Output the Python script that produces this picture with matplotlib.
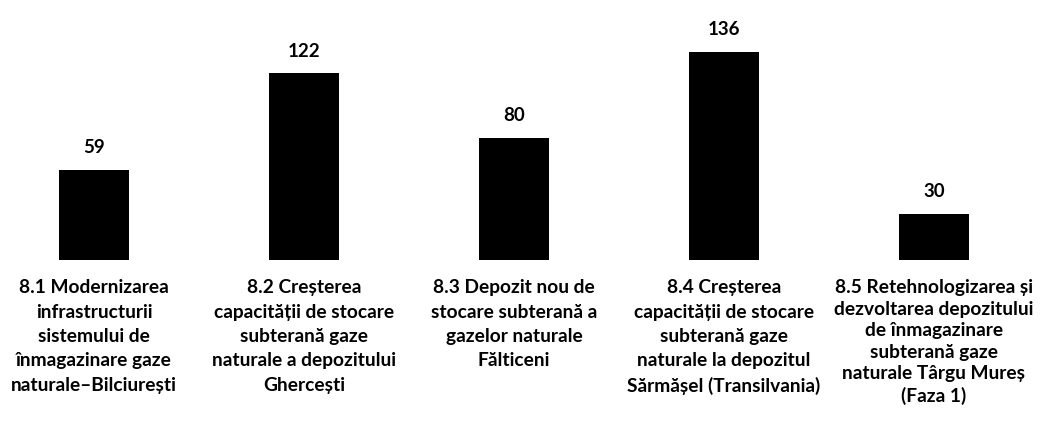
import matplotlib
matplotlib.use("Agg")
import matplotlib.pyplot as plt
import numpy as np

# Proiecte de înmagazinare gaze naturale (valori)
proiecte = [
    "8.1 Modernizarea\ninfrastructurii\nsistemului de\nînmagazinare gaze\nnaturale\u2013Bilciurești",
    "8.2 Creșterea\ncapacității de stocare\nsubterană gaze\nnaturale a depozitului\nGhercești",
    "8.3 Depozit nou de\nstocare subterană a\ngazelor naturale\nFălticeni",
    "8.4 Creșterea\ncapacității de stocare\nsubterană gaze\nnaturale la depozitul\nSărmășel (Transilvania)",
    "8.5 Retehnologizarea și\ndezvoltarea depozitului\nde înmagazinare\nsubterană gaze\nnaturale Târgu Mureș\n(Faza 1)",
]
valori = [59, 122, 80, 136, 30]

plt.rcParams['font.family'] = ['Lato', 'DejaVu Sans']

fig = plt.figure(figsize=(10.4, 4.29), dpi=100)
ax = fig.add_axes([0, 0.394, 1, 0.606])

x = np.arange(len(valori))
ax.bar(x, valori, width=0.33, color='black')

for xi, v in zip(x, valori):
    ax.text(xi, v + 9, str(v), ha='center', va='bottom',
            fontsize=13.5, fontweight='bold')

ax.set_xlim(-0.448, 4.505)
ax.set_ylim(0, 170)
ax.set_xticks(x)
etichete = ax.set_xticklabels(proiecte, fontsize=13.8, fontweight='bold',
                              linespacing=1.52, va='top')
# ultima eticheta are un rand in plus, mai strans
etichete[-1].set_linespacing(1.32)
ax.tick_params(axis='x', length=0, pad=14)
ax.set_yticks([])
for s in ax.spines.values():
    s.set_visible(False)

fig.savefig("out.png", dpi=100, facecolor='white')
